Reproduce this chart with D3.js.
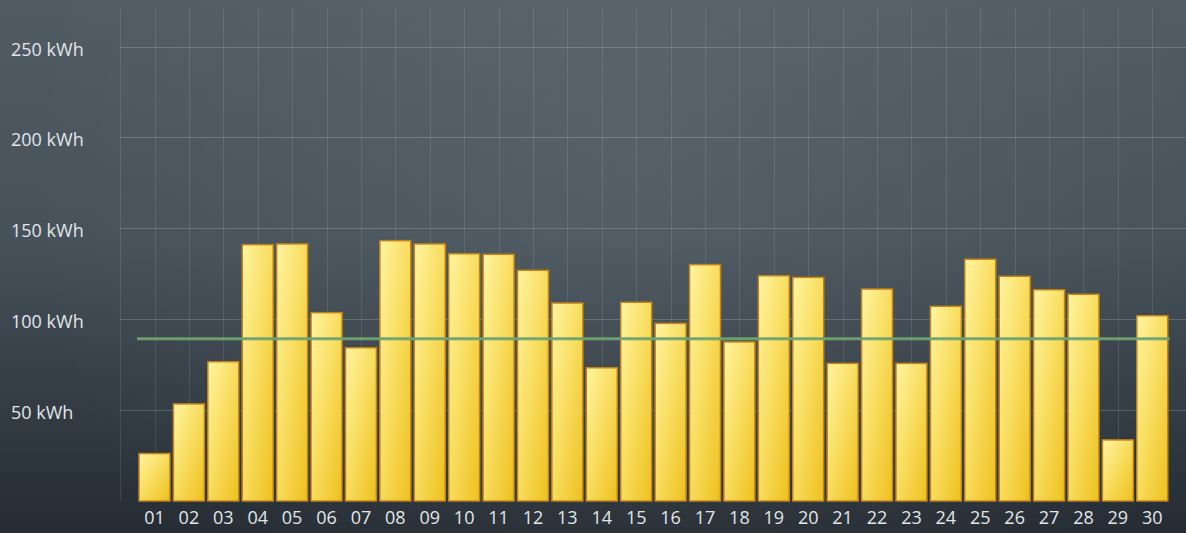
<!DOCTYPE html>
<html>
<head>
<meta charset="utf-8">
<script src="https://cdn.jsdelivr.net/npm/d3@7"></script>
<style>
  html, body { margin: 0; padding: 0; background: #2c343b; overflow: hidden; }
  svg { display: block; }
  .lbl { font-family: "Open Sans", sans-serif; fill: #e2e6e9; }
</style>
</head>
<body>
<script>
// daily energy, kWh
var days = ["01","02","03","04","05","06","07","08","09","10",
            "11","12","13","14","15","16","17","18","19","20",
            "21","22","23","24","25","26","27","28","29","30"];
var energy = [26.1, 53.4, 76.6, 141.0, 141.4, 103.6, 84.3, 143.2, 141.4, 136.0,
              135.7, 126.9, 108.9, 73.3, 109.3, 97.7, 130.0, 87.5, 123.9, 123.0,
              75.7, 116.6, 75.7, 107.1, 133.0, 123.6, 116.2, 113.7, 33.6, 101.9];
var yTicks = [50, 100, 150, 200, 250];
var reference = 89.3;

var width = 1186, height = 533;

var svg = d3.select("body").append("svg")
    .attr("width", width)
    .attr("height", height);

var defs = svg.append("defs");

// background: vertical fade + soft light spot
var bgv = defs.append("linearGradient")
    .attr("id", "bgv")
    .attr("x1", 0).attr("y1", 0).attr("x2", 0).attr("y2", 1);
bgv.append("stop").attr("offset", 0).attr("stop-color", "#505b64");
bgv.append("stop").attr("offset", 0.45).attr("stop-color", "#46515a");
bgv.append("stop").attr("offset", 1).attr("stop-color", "#252c33");

var bg = defs.append("radialGradient")
    .attr("id", "bg")
    .attr("gradientUnits", "userSpaceOnUse")
    .attr("cx", 640).attr("cy", 170).attr("r", 620);
bg.append("stop").attr("offset", 0).attr("stop-color", "#ffffff").attr("stop-opacity", 0.07);
bg.append("stop").attr("offset", 1).attr("stop-color", "#ffffff").attr("stop-opacity", 0);

// bar fill
var bar = defs.append("linearGradient")
    .attr("id", "barfill")
    .attr("x1", 0).attr("y1", 0).attr("x2", 1).attr("y2", 1);
bar.append("stop").attr("offset", 0).attr("stop-color", "#fff4a0");
bar.append("stop").attr("offset", 0.5).attr("stop-color", "#f8dc5c");
bar.append("stop").attr("offset", 1).attr("stop-color", "#eec01e");

svg.append("rect")
    .attr("width", width).attr("height", height)
    .attr("fill", "url(#bgv)");
svg.append("rect")
    .attr("width", width).attr("height", height)
    .attr("fill", "url(#bg)");

// scales
var x = d3.scaleBand()
    .domain(days)
    .range([137.3, 1169.5])
    .paddingInner(0.1)
    .paddingOuter(0.05);

var y = d3.scaleLinear()
    .domain([0, 250])
    .range([501, 46.5]);

var step = x.step();
var cx = function(d) { return x(d) + x.bandwidth() / 2; };

// grid
var grid = svg.append("g").attr("class", "grid");
var vlines = [cx(days[0]) - step].concat(days.map(cx));
grid.selectAll("line.v")
    .data(vlines)
  .enter().append("line")
    .attr("class", "v")
    .attr("x1", function(d) { return Math.round(d) + 0.5; })
    .attr("x2", function(d) { return Math.round(d) + 0.5; })
    .attr("y1", 8)
    .attr("y2", y(0))
    .attr("stroke", "rgba(255,255,255,0.10)")
    .attr("stroke-width", 1);

grid.selectAll("line.h")
    .data(yTicks)
  .enter().append("line")
    .attr("class", "h")
    .attr("x1", vlines[0])
    .attr("x2", width)
    .attr("y1", function(d) { return Math.round(y(d)) + 0.5; })
    .attr("y2", function(d) { return Math.round(y(d)) + 0.5; })
    .attr("stroke", "rgba(255,255,255,0.18)")
    .attr("stroke-width", 1);

// y labels
svg.selectAll("text.ylab")
    .data(yTicks)
  .enter().append("text")
    .attr("class", "lbl ylab")
    .attr("x", 11)
    .attr("y", function(d) { return y(d) + 9; })
    .style("font-size", "18px")
    .text(function(d) { return d + " kWh"; });

// bars
svg.append("g").selectAll("rect")
    .data(energy)
  .enter().append("rect")
    .attr("x", function(d, i) { return x(days[i]); })
    .attr("width", x.bandwidth())
    .attr("y", function(d) { return y(d); })
    .attr("height", function(d) { return y(0) - y(d); })
    .attr("fill", "url(#barfill)")
    .attr("stroke", "#c0841a")
    .attr("stroke-width", 1.5);

// reference line
svg.append("line")
    .attr("x1", x(days[0]) - 2)
    .attr("x2", x(days[days.length - 1]) + x.bandwidth() + 2)
    .attr("y1", y(reference))
    .attr("y2", y(reference))
    .attr("stroke", "#6ea271")
    .attr("stroke-opacity", 0.95)
    .attr("stroke-width", 3);

// x labels
svg.selectAll("text.xlab")
    .data(days)
  .enter().append("text")
    .attr("class", "lbl xlab")
    .attr("x", cx)
    .attr("y", 524)
    .attr("text-anchor", "middle")
    .style("font-size", "18px")
    .text(function(d) { return d; });
</script>
</body>
</html>
